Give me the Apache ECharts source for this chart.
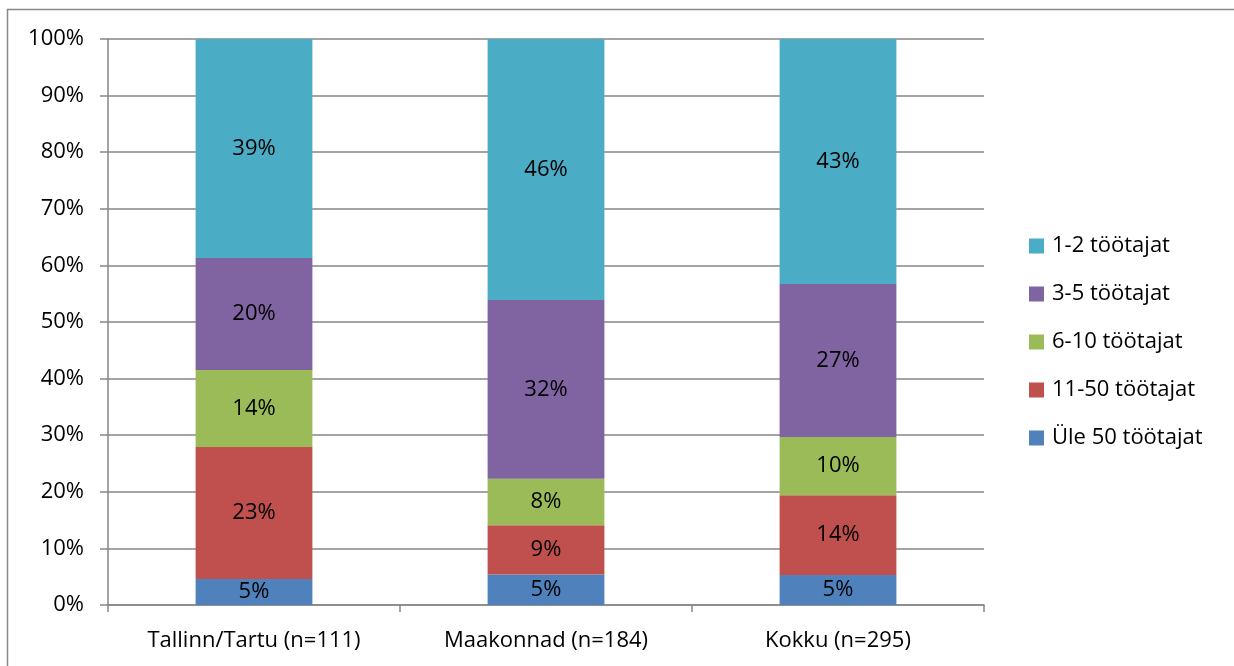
<!DOCTYPE html>
<html><head><meta charset="utf-8">
<script src="https://cdn.jsdelivr.net/npm/echarts@6/dist/echarts.min.js"></script>
<style>html,body{margin:0;padding:0;background:#fff}#c{width:1234px;height:666px}</style>
</head><body><div id="c"></div>
<script>
const categories = ['Tallinn/Tartu (n=111)', 'Maakonnad (n=184)', 'Kokku (n=295)'];
const seriesNames = ['Üle 50 töötajat', '11-50 töötajat', '6-10 töötajat', '3-5 töötajat', '1-2 töötajat'];
const ule50 = [4.6, 5.4, 5.3];
const t11_50 = [23.3, 8.7, 14.1];
const t6_10 = [13.6, 8.2, 10.3];
const t3_5 = [19.8, 31.6, 27.0];
const t1_2 = [38.7, 46.1, 43.3];
const colors = ['#4F81BD', '#C0504D', '#9BBB59', '#8064A2', '#4BACC6'];
const legendOrder = ['1-2 töötajat', '3-5 töötajat', '6-10 töötajat', '11-50 töötajat', 'Üle 50 töötajat'];

const values = [ule50, t11_50, t6_10, t3_5, t1_2];
const FONT = 'Open Sans';
const FS = 22;
const chart = echarts.init(document.getElementById('c'));
chart.setOption({
  animation: false,
  graphic: [{type: 'rect', shape: {x: 7.5, y: 9.5, width: 1300, height: 700}, style: {fill: 'none', stroke: '#888', lineWidth: 1.5}, z: -1}],
  grid: {left: 108, top: 39, width: 876, height: 566},
  legend: {
    data: legendOrder, orient: 'vertical', left: 1024, top: 230,
    itemWidth: 15, itemHeight: 15, itemGap: 26, icon: 'rect',
    textStyle: {fontFamily: FONT, fontSize: FS, color: '#000', padding: [0,0,0,3], lineHeight: 22}
  },
  xAxis: {
    type: 'category', data: categories,
    axisLine: {lineStyle: {color: '#868686', width: 1.5}},
    axisTick: {show: true, length: 7, lineStyle: {color: '#868686', width: 1.5}},
    axisLabel: {fontFamily: FONT, fontSize: FS, color: '#000', margin: 25}
  },
  yAxis: {
    type: 'value', min: 0, max: 100, interval: 10,
    axisLine: {show: true, lineStyle: {color: '#868686', width: 1.5}},
    axisTick: {show: true, length: 8, lineStyle: {color: '#868686', width: 1.5}},
    splitLine: {lineStyle: {color: '#868686', width: 1.5}},
    axisLabel: {fontFamily: FONT, fontSize: FS, color: '#000', margin: 24, formatter: '{value}%'}
  },
  series: seriesNames.map((n, i) => ({
    name: n, type: 'bar', stack: 'a', barWidth: '40%',
    itemStyle: {color: colors[i]},
    data: values[i],
    label: {show: true, position: 'inside', fontFamily: FONT, fontSize: FS, color: '#000',
      formatter: p => Math.round(p.value) + '%'}
  }))
});
</script></body></html>
